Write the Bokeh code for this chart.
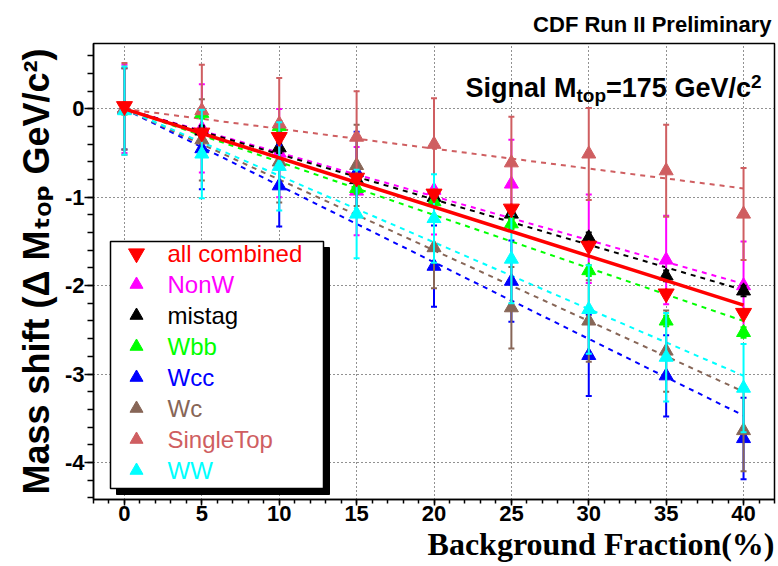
import numpy as np
from bokeh.plotting import figure
from bokeh.models import Range1d, SingleIntervalTicker, Label, ColumnDataSource, Title
from bokeh.core.properties import value
from bokeh.embed import file_html
from bokeh.resources import INLINE

# ---------------- data ----------------
bkg_fraction = [0, 5, 10, 15, 20, 25, 30, 35, 40]

series_names = ["all combined", "NonW", "mistag", "Wbb", "Wcc", "Wc", "SingleTop", "WW"]

combined  = [0.03, -0.27, -0.32, -0.78, -0.96, -1.13, -1.55, -2.09, -2.31]
nonw      = [0.00, -0.22, -0.50, -0.93, -0.92, -0.85, -1.47, -1.71, -2.00]
mistag    = [0.00, -0.25, -0.44, -0.80, -1.00, -1.19, -1.46, -1.89, -2.06]
wbb       = [0.00, -0.05, -0.20, -0.90, -1.05, -1.30, -1.83, -2.40, -2.53]
wcc       = [0.00, -0.45, -0.87, -0.72, -1.78, -1.95, -2.79, -3.02, -3.73]
wc        = [0.00, -0.35, -0.60, -0.64, -1.57, -2.25, -2.40, -2.74, -3.64]
singletop = [0.00, -0.02, -0.17, -0.32, -0.40, -0.61, -0.51, -0.70, -1.19]
ww        = [-0.02, -0.51, -0.65, -1.19, -1.24, -1.70, -2.27, -2.81, -3.16]

err_combined  = [0.06] * 9
err_nonw      = [0.50] * 9
err_mistag    = [0.06] * 9
err_wbb       = [0.06] * 9
err_wcc       = [0.46] * 9
err_wc        = [0.46] * 9
err_singletop = [0.52] * 9
err_ww        = [0.50] * 9

# linear fits: value of each fitted line at 40 % background
fit_at_40 = [-2.22, -1.98, -2.05, -2.40, -3.47, -3.20, -0.90, -3.02]

y_ticks = [0, -1, -2, -3, -4]
y_tick_labels = ["0", "-1", "-2", "-3", "-4"]

series_values = [combined, nonw, mistag, wbb, wcc, wc, singletop, ww]
series_errors = [err_combined, err_nonw, err_mistag, err_wbb, err_wcc, err_wc, err_singletop, err_ww]
series_colors = ["#ff0000", "#ff00ff", "#000000", "#00ff00", "#0000ff", "#876657", "#cf5e61", "#00ffff"]

# ---------------- layout ----------------
W, H = 778, 566
FL, FR, FT, FB = 93, 774, 43, 499
XMIN, XMAX = -2.0, 42.0
YMIN, YMAX = -4.42, 0.74


def X(px):
    return XMIN + (px - FL) / (FR - FL) * (XMAX - XMIN)


def Y(py):
    return YMAX - (py - FT) / (FB - FT) * (YMAX - YMIN)


# Arial/Liberation Sans Bold advance widths (per 1000 em)
BOLD_W = {' ': 278, '(': 333, ')': 333, '/': 278, '=': 584,
          'G': 778, 'M': 833, 'S': 667, 'V': 667,
          'a': 556, 'c': 556, 'e': 556, 'g': 611, 'i': 278, 'l': 278, 'n': 611,
          'o': 611, 'p': 611, 't': 333}


def tw(s, size):
    return sum(BOLD_W.get(ch, 556) for ch in s) / 1000.0 * size


SANS = "Liberation Sans"
SERIF = "Liberation Serif"

p = figure(width=W, height=H, output_backend="svg", toolbar_location=None,
           title="CDF Run II Preliminary",
           x_range=Range1d(XMIN, XMAX), y_range=Range1d(YMIN, YMAX),
           min_border_left=FL, min_border_right=W - FR, min_border_top=FT,
           min_border_bottom=H - FB)
p.title.align = "right"
p.title.text_font = SANS
p.title.text_font_style = "bold"
p.title.text_font_size = "22px"
p.title.text_color = "black"
p.title.standoff = 13
p.title.offset = 3

p.background_fill_color = "white"
p.border_fill_color = "white"
p.outline_line_color = "black"
p.outline_line_width = 1.5

p.xaxis.ticker = SingleIntervalTicker(interval=5, num_minor_ticks=5)
p.yaxis.ticker = SingleIntervalTicker(interval=1, num_minor_ticks=5)
p.yaxis.major_label_overrides = {t: s for t, s in zip(y_ticks, y_tick_labels)}
for ax in (p.xaxis[0], p.yaxis[0]):
    ax.axis_line_color = "black"
    ax.axis_line_width = 1.5
    ax.major_tick_line_color = "black"
    ax.minor_tick_line_color = "black"
    ax.major_tick_line_width = 1.5
    ax.minor_tick_line_width = 1.5
    ax.major_tick_in = 0
    ax.minor_tick_in = 0
    ax.major_label_text_font = SANS
    ax.major_label_text_font_style = "bold"
    ax.major_label_text_font_size = "22px"
    ax.major_label_text_color = "black"
p.xaxis.major_tick_out = 6
p.xaxis.minor_tick_out = 4
p.xaxis.major_label_standoff = 0
p.yaxis.major_tick_out = 9
p.yaxis.minor_tick_out = 6
p.yaxis.major_label_standoff = 0

for g in (p.xgrid[0], p.ygrid[0]):
    g.grid_line_color = "#222222"
    g.grid_line_dash = "1 3"
    g.grid_line_width = 1

# axis titles
p.add_layout(Title(text="Background Fraction(%)", align="right", text_font=SERIF,
                   text_font_style="bold", text_font_size="32px", text_color="black",
                   standoff=0), "below")
p.add_layout(Title(text="Mass shift (Δ Mₜₒₚ GeV/c²)", align="center",
                   text_font="Liberation Sans, DejaVu Sans", text_font_style="bold",
                   text_font_size="36px", text_color="black", standoff=10), "left")

x = np.array(bkg_fraction, dtype=float)
xfit = np.array([bkg_fraction[0], bkg_fraction[-1]], dtype=float)

# dashed fit lines of the individual backgrounds
for i in range(1, len(series_names)):
    slope = fit_at_40[i] / bkg_fraction[-1]
    p.line(xfit, slope * xfit, line_color=series_colors[i], line_width=2, line_dash="5 5")

# individual backgrounds: error bars + markers
for i in range(1, len(series_names)):
    yv = np.array(series_values[i])
    ev = np.array(series_errors[i])
    c = series_colors[i]
    p.segment(x0=x, y0=yv - ev, x1=x, y1=yv + ev, line_color=c, line_width=2)
    p.scatter(np.concatenate([x, x]), np.concatenate([yv - ev, yv + ev]), marker="dash",
              size=6, line_color=c, line_width=2)
    p.scatter(x, yv, marker="triangle", size=14, fill_color=c, line_color=c)

# all combined: fit line, error bars, markers
slope_c = fit_at_40[0] / bkg_fraction[-1]
p.line(xfit, slope_c * xfit, line_color=series_colors[0], line_width=3.5)
yc = np.array(combined)
ec = np.array(err_combined)
p.segment(x0=x, y0=yc - ec, x1=x, y1=yc + ec, line_color=series_colors[0], line_width=2)
p.scatter(x, yc, marker="inverted_triangle", size=16, fill_color=series_colors[0],
          line_color=series_colors[0])

# ---------------- legend (box with shadow) ----------------
LEG_L, LEG_R, LEG_T, LEG_B = 110, 323, 241, 488
SHADOW = 6
p.quad(left=X(LEG_L + SHADOW), right=X(LEG_R + SHADOW), top=Y(LEG_T + SHADOW),
       bottom=Y(LEG_B + SHADOW), fill_color="black", line_color="black")
p.quad(left=X(LEG_L), right=X(LEG_R), top=Y(LEG_T), bottom=Y(LEG_B),
       fill_color="white", line_color="black", line_width=1.5)

row0, row_step = 253, 31
n = len(series_names)
leg_rows = [row0 + k * row_step for k in range(n)]
leg_src = ColumnDataSource(dict(
    mx=[X(136)] * n,
    tx=[X(167)] * n,
    y=[Y(r) for r in leg_rows],
    name=series_names,
    color=series_colors,
    marker=["inverted_triangle"] + ["triangle"] * (n - 1),
    size=[16] + [13] * (n - 1),
))
p.scatter(x="mx", y="y", marker="marker", size="size", fill_color="color",
          line_color="color", source=leg_src)
p.text(x="tx", y="y", text="name", text_color="color", source=leg_src,
       text_font=value(SANS), text_font_size=value("24px"),
       text_baseline="middle", text_align="left")

# "Signal M_top=175 GeV/c^2" (inside the frame)
sig_pieces = [("Signal M", 27, 0), ("top", 19, 8), ("=175", 27, 0), (" GeV/c", 27, 0), ("2", 19, -6)]
cx = 465.0
base = 87.0
for txt, sz, off in sig_pieces:
    lead = len(txt) - len(txt.lstrip(" "))
    start = cx + tw(txt[:lead], sz)
    p.add_layout(Label(x=X(start), y=Y(base + off), text=txt.strip(), text_align="left",
                       text_baseline="alphabetic", text_font=SANS, text_font_style="bold",
                       text_font_size=f"{sz}px", text_color="black"))
    cx += tw(txt, sz)

open("out.html", "w").write(file_html(p, INLINE))
